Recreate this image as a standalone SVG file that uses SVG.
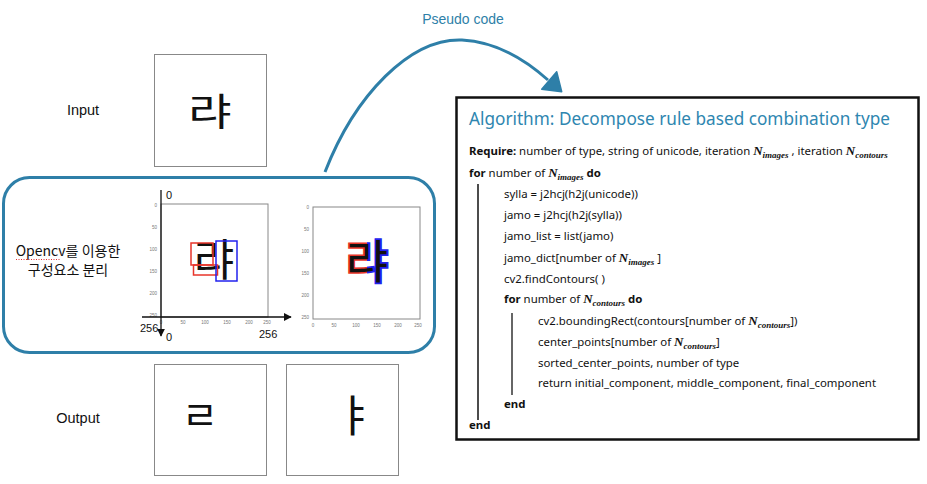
<svg xmlns="http://www.w3.org/2000/svg" width="927" height="484" viewBox="0 0 927 484">
<style>
.lbl{font-family:"Liberation Sans",Arial,sans-serif;font-size:14.5px;fill:#111}
.kr{font-family:"Noto Sans CJK KR",sans-serif;font-size:14px;fill:#111}
.frame{fill:#fff;stroke:#888;stroke-width:1}
.hw{font-family:"Noto Sans CJK KR",sans-serif;font-weight:400;fill:#111;text-anchor:middle}
.tick{font-family:"Liberation Sans",Arial,sans-serif;font-size:4.5px;fill:#777}
.ax{font-family:"Liberation Sans",Arial,sans-serif;font-size:11px;fill:#111}
.code{font-family:"Noto Sans","Open Sans",sans-serif;font-size:11.4px;fill:#111}
.b{font-weight:700}
.N{font-family:"Liberation Serif",serif;font-style:italic;font-weight:700;font-size:13px}
.sub{font-family:"Liberation Serif",serif;font-style:italic;font-weight:700;font-size:9px}
</style>
<defs>
<clipPath id="cl"><rect x="330" y="230" width="37" height="60"/></clipPath>
<clipPath id="cr"><rect x="367" y="230" width="40" height="60"/></clipPath>
<marker id="ah" viewBox="0 0 10 10" refX="9" refY="5" markerWidth="6" markerHeight="6" orient="auto"><path d="M0,0L10,5L0,10z" fill="#111"/></marker>
</defs>
<rect width="927" height="484" fill="#fff"/>

<g id="input-label"><text class="lbl" x="83" y="115" text-anchor="middle">Input</text></g>
<g id="input-image">
<rect class="frame" x="154.5" y="54.5" width="112" height="112"/>
<text class="hw" x="210" y="126" font-size="42" transform="translate(210,112) scale(1.12,0.9) translate(-210,-112)">랴</text>
</g>

<g id="opencv-panel">
<rect x="3.5" y="177.5" width="431" height="175" rx="26" fill="none" stroke="#2e7fa8" stroke-width="3"/>
<text class="kr" x="68" y="256" text-anchor="middle">Opencv를 이용한</text>
<line x1="16" y1="259.5" x2="61" y2="259.5" stroke="#e03030" stroke-width="1" stroke-dasharray="1,1.5"/>
<text class="kr" x="68" y="275" text-anchor="middle">구성요소 분리</text>
</g>

<g id="plot-boxes">
<rect class="frame" x="161" y="204" width="107" height="113" stroke="#aaa"/>
<g class="tick" text-anchor="end">
<text x="157" y="206.5">0</text><text x="157" y="228.5">50</text><text x="157" y="250.5">100</text><text x="157" y="272.5">150</text><text x="157" y="294.5">200</text><text x="157" y="316.5">250</text>
</g>
<g class="tick" text-anchor="middle">
<text x="161" y="324">0</text><text x="183" y="324">50</text><text x="205" y="324">100</text><text x="227" y="324">150</text><text x="249" y="324">200</text><text x="267" y="324">250</text>
</g>
<text class="hw" x="214" y="276" font-size="44">랴</text>
<rect x="191" y="243" width="22" height="22" fill="none" stroke="#e8352a" stroke-width="1.5"/>
<rect x="193.5" y="265" width="24" height="10" fill="none" stroke="#e8352a" stroke-width="1.5"/>
<rect x="216" y="241" width="21" height="40" fill="none" stroke="#2222ee" stroke-width="1.5"/>
<line x1="161" y1="190" x2="161" y2="336" stroke="#111" stroke-width="1.3" marker-end="url(#ah)"/>
<line x1="142" y1="317" x2="291" y2="317" stroke="#111" stroke-width="1.3" marker-end="url(#ah)"/>
<text class="ax" x="166" y="199">0</text>
<text class="ax" x="140" y="332">256</text>
<text class="ax" x="166" y="341">0</text>
<text class="ax" x="259" y="338">256</text>
</g>

<g id="plot-colored">
<rect class="frame" x="313" y="207" width="107" height="112" stroke="#aaa"/>
<g class="tick" text-anchor="end">
<text x="309" y="208.5">0</text><text x="309" y="230.5">50</text><text x="309" y="252.5">100</text><text x="309" y="274.5">150</text><text x="309" y="296.5">200</text><text x="309" y="318.5">250</text>
</g>
<g class="tick" text-anchor="middle">
<text x="313" y="327">0</text><text x="334" y="327">50</text><text x="356" y="327">100</text><text x="377" y="327">150</text><text x="398" y="327">200</text><text x="418" y="327">250</text>
</g>
<text class="hw" x="367" y="278" font-size="46" stroke="#e8352a" stroke-width="3" paint-order="stroke" clip-path="url(#cl)">랴</text>
<text class="hw" x="367" y="278" font-size="46" stroke="#2222ee" stroke-width="3.5" paint-order="stroke" clip-path="url(#cr)">랴</text>
</g>

<g id="output-label"><text class="lbl" x="78" y="423" text-anchor="middle">Output</text></g>
<g id="output-1">
<rect class="frame" x="154.5" y="364.5" width="112" height="111"/>
<text class="hw" x="200" y="430" font-size="40">ㄹ</text>
</g>
<g id="output-2">
<rect class="frame" x="286.5" y="364.5" width="112" height="111"/>
<text class="hw" x="355" y="432" font-size="44">ㅑ</text>
</g>

<g id="connectors">
<path d="M325,172 C355,95 410,38 462,40 C500,42 528,62 548,80" fill="none" stroke="#2e7fa8" stroke-width="3"/>
<polygon points="556.7,71.7 541.7,89.3 561.7,91.7" fill="#2e7fa8" stroke="#2e7fa8" stroke-width="1.5" stroke-linejoin="round"/>
<text x="463" y="24" text-anchor="middle" font-family="Liberation Sans,Arial,sans-serif" font-size="14" fill="#2e7fa8">Pseudo code</text>
</g>

<g id="algorithm">
<rect x="456.5" y="97.5" width="462" height="342" fill="#fff" stroke="#111" stroke-width="2.5"/>
<text x="469" y="125" font-family="Noto Sans,Open Sans,sans-serif" font-size="18.5" fill="#2e86b0" textLength="421" lengthAdjust="spacingAndGlyphs">Algorithm: Decompose rule based combination type</text>
<line x1="478" y1="184" x2="478" y2="420" stroke="#111" stroke-width="1.5"/>
<line x1="512" y1="313" x2="512" y2="395" stroke="#666" stroke-width="2"/>
<g class="code">
<text x="469" y="155"><tspan class="b">Require:</tspan> number of type, string of unicode, iteration <tspan class="N">N</tspan><tspan class="sub" dy="3">images</tspan><tspan dy="-3"> , iteration </tspan><tspan class="N">N</tspan><tspan class="sub" dy="3">contours</tspan></text>
<text x="469" y="177"><tspan class="b">for</tspan> number of <tspan class="N">N</tspan><tspan class="sub" dy="3">images</tspan><tspan dy="-3" class="b"> do</tspan></text>
<text x="504" y="198">sylla = j2hcj(h2j(unicode))</text>
<text x="504" y="219">jamo = j2hcj(h2j(sylla))</text>
<text x="504" y="240">jamo_list = list(jamo)</text>
<text x="504" y="262">jamo_dict[number of <tspan class="N">N</tspan><tspan class="sub" dy="3">images</tspan><tspan dy="-3"> ]</tspan></text>
<text x="504" y="283">cv2.findContours( )</text>
<text x="504" y="303"><tspan class="b">for</tspan> number of <tspan class="N">N</tspan><tspan class="sub" dy="3">contours</tspan><tspan dy="-3" class="b"> do</tspan></text>
<text x="538" y="325">cv2.boundingRect(contours[number of <tspan class="N">N</tspan><tspan class="sub" dy="3">contours</tspan><tspan dy="-3">])</tspan></text>
<text x="538" y="346">center_points[number of <tspan class="N">N</tspan><tspan class="sub" dy="3">contours</tspan><tspan dy="-3">]</tspan></text>
<text x="538" y="367">sorted_center_points,  number of type</text>
<text x="538" y="387">return initial_component, middle_component, final_component</text>
<text x="504" y="408" class="b">end</text>
<text x="469" y="429" class="b">end</text>
</g>
</g>
</svg>
